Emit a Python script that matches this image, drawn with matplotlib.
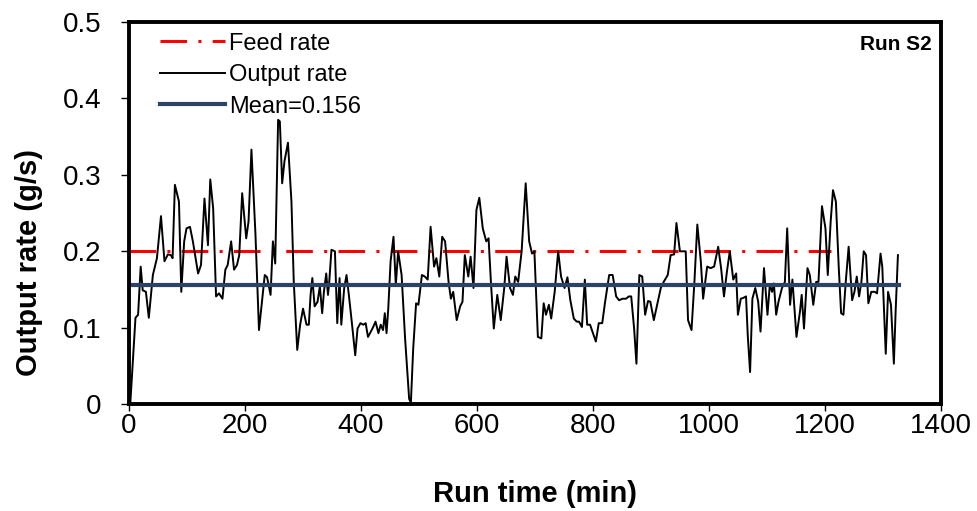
import matplotlib
matplotlib.use("Agg")
import matplotlib.pyplot as plt

plt.rcParams['font.family'] = ['Liberation Sans', 'DejaVu Sans']

run_time = [2, 11, 15.5, 20, 23.5, 29, 34, 41, 48, 55, 61, 67, 72, 75, 79, 86, 90, 95, 99, 105,
            110, 119, 124, 130, 136, 140, 145, 150, 155, 161, 166, 170, 176, 181, 186, 190, 195, 202, 206, 211,
            218, 224, 234, 238, 244, 248, 252, 257, 260, 264, 268, 274, 280, 284, 290, 295, 300, 306, 310, 313,
            316, 320, 325, 329, 333, 336, 340, 343, 345, 349, 355, 359, 363, 366, 371, 375, 379, 384, 390, 394,
            399, 404, 408, 412, 417, 421, 425, 430, 434, 438, 441, 444, 447, 451, 456, 460, 464, 470, 476, 483,
            486, 490, 495, 499, 505, 510, 515, 520, 526, 530, 535, 540, 545, 551, 555, 559, 565, 571, 575, 579,
            585, 589, 594, 599, 604, 610, 616, 620, 624, 629, 635, 641, 647, 651, 657, 662, 666, 671, 677, 684,
            690, 695, 699, 705, 711, 715, 719, 724, 728, 734, 740, 745, 751, 756, 761, 767, 772, 776, 781, 786,
            790, 795, 800, 805, 810, 816, 821, 828, 834, 840, 845, 851, 857, 862, 866, 871, 875, 880, 885, 890,
            895, 899, 905, 917, 922, 929, 934, 940, 944, 950, 956, 960, 964, 970, 975, 980, 986, 990, 997, 1003,
            1009, 1016, 1021, 1026, 1031, 1036, 1042, 1047, 1050, 1055, 1059, 1064, 1067, 1071, 1075, 1080, 1085, 1089, 1095, 1101,
            1105, 1109, 1112, 1116, 1120, 1126, 1131, 1135, 1140, 1144, 1151, 1157, 1160, 1164, 1170, 1174, 1180, 1185, 1189, 1195,
            1201, 1205, 1210, 1214, 1219, 1224, 1228, 1232, 1236, 1241, 1247, 1251, 1255, 1259, 1263, 1267, 1271, 1275, 1280, 1286,
            1290, 1296, 1299, 1305, 1309, 1314, 1319, 1322, 1326]
output_rate = [0.0, 0.113, 0.117, 0.180, 0.149, 0.147, 0.113, 0.169, 0.191, 0.246, 0.187, 0.196, 0.195, 0.191, 0.287, 0.265, 0.147, 0.213, 0.230, 0.232,
               0.213, 0.171, 0.182, 0.269, 0.208, 0.294, 0.256, 0.141, 0.145, 0.138, 0.176, 0.182, 0.213, 0.176, 0.182, 0.195, 0.276, 0.217, 0.239, 0.333,
               0.221, 0.097, 0.169, 0.166, 0.143, 0.213, 0.184, 0.372, 0.370, 0.289, 0.318, 0.342, 0.265, 0.160, 0.071, 0.104, 0.125, 0.104, 0.104, 0.143,
               0.165, 0.128, 0.134, 0.154, 0.119, 0.147, 0.171, 0.143, 0.158, 0.202, 0.200, 0.106, 0.165, 0.104, 0.152, 0.169, 0.143, 0.108, 0.064, 0.099,
               0.106, 0.104, 0.106, 0.088, 0.095, 0.101, 0.108, 0.093, 0.104, 0.097, 0.119, 0.093, 0.125, 0.187, 0.219, 0.156, 0.200, 0.169, 0.086, 0.007,
               0.002, 0.073, 0.132, 0.130, 0.169, 0.167, 0.163, 0.232, 0.180, 0.191, 0.167, 0.219, 0.213, 0.160, 0.138, 0.147, 0.110, 0.128, 0.134, 0.195,
               0.167, 0.193, 0.152, 0.254, 0.270, 0.230, 0.213, 0.217, 0.160, 0.099, 0.143, 0.110, 0.152, 0.193, 0.152, 0.143, 0.167, 0.160, 0.200, 0.289,
               0.213, 0.197, 0.200, 0.088, 0.086, 0.132, 0.117, 0.130, 0.112, 0.147, 0.200, 0.167, 0.152, 0.166, 0.136, 0.112, 0.108, 0.108, 0.101, 0.163,
               0.104, 0.104, 0.093, 0.082, 0.106, 0.106, 0.134, 0.169, 0.169, 0.141, 0.136, 0.138, 0.138, 0.141, 0.141, 0.099, 0.053, 0.169, 0.167, 0.117,
               0.135, 0.134, 0.110, 0.152, 0.160, 0.169, 0.195, 0.196, 0.237, 0.200, 0.200, 0.200, 0.110, 0.097, 0.160, 0.235, 0.187, 0.138, 0.180, 0.178,
               0.180, 0.206, 0.178, 0.141, 0.173, 0.200, 0.163, 0.171, 0.117, 0.138, 0.139, 0.141, 0.090, 0.042, 0.138, 0.152, 0.134, 0.095, 0.178, 0.117,
               0.156, 0.147, 0.158, 0.117, 0.134, 0.152, 0.160, 0.230, 0.130, 0.163, 0.088, 0.121, 0.143, 0.099, 0.178, 0.169, 0.130, 0.160, 0.160, 0.259,
               0.230, 0.169, 0.239, 0.280, 0.265, 0.178, 0.119, 0.117, 0.160, 0.206, 0.136, 0.147, 0.167, 0.141, 0.160, 0.200, 0.195, 0.132, 0.147, 0.147,
               0.145, 0.197, 0.180, 0.066, 0.147, 0.130, 0.053, 0.121, 0.195]

feed_time = [0, 1210]
feed_rate = [0.2, 0.2]
mean_time = [0, 1328]
mean_rate = [0.156, 0.156]

fig = plt.figure(figsize=(9.78, 5.11), dpi=100)
ax = fig.add_axes([0.132, 0.209, 0.830, 0.748])

ax.plot(feed_time, feed_rate, color='#FF0000', lw=2.2,
        linestyle=(0, (8.7, 3.7, 1, 3.7)), label='Feed rate')
ax.plot(run_time, output_rate, color='black', lw=1.4, label='Output rate')
ax.plot(mean_time, mean_rate, color='#2B4466', lw=3.0, label='Mean=0.156')

ax.set_xlim(0, 1400)
ax.set_ylim(0, 0.5)
ax.set_xticks(range(0, 1401, 200))
ax.set_yticks([0, 0.1, 0.2, 0.3, 0.4, 0.5])
ax.set_yticklabels(['0', '0.1', '0.2', '0.3', '0.4', '0.5'])
ax.tick_params(labelsize=20, direction='out', length=6, width=1)
ax.tick_params(axis='y', pad=14)
ax.tick_params(axis='x', length=5, pad=1)

for s in ax.spines.values():
    s.set_linewidth(2.8)

ax.set_xlabel('Run time (min)', fontsize=21, fontweight='bold', labelpad=30)
ax.set_ylabel('Output rate (g/s)', fontsize=21, fontweight='bold')
ax.yaxis.set_label_coords(-0.106, 0.37)

ax.legend(loc='upper left', bbox_to_anchor=(0.038, 0.972), frameon=False,
          fontsize=17, handlelength=2.75, handletextpad=0.17,
          labelspacing=0.4, borderaxespad=0, borderpad=0)

ax.text(0.989, 0.94, 'Run S2', transform=ax.transAxes, ha='right', va='center',
        fontsize=15, fontweight='bold')

fig.savefig('out.png', dpi=100)
